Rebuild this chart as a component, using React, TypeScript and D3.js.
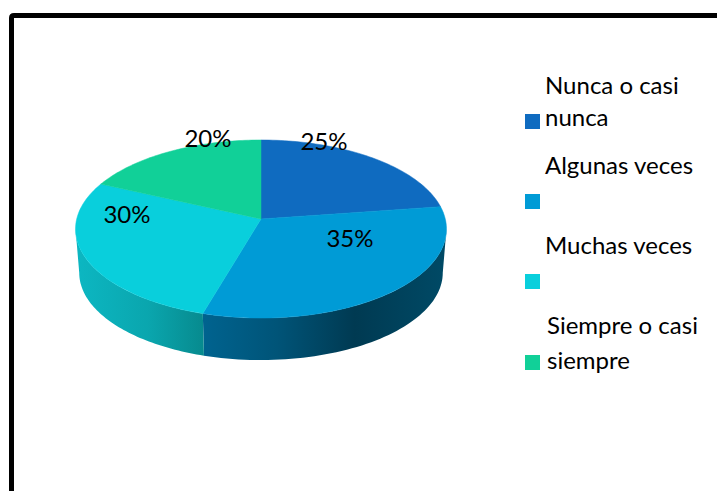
import React from "react";
import * as d3 from "d3";

const categories = ["Nunca o casi nunca", "Algunas veces", "Muchas veces", "Siempre o casi siempre"];
const values = [25, 35, 30, 20];
const legendLines = [["Nunca o casi", "nunca"], ["Algunas veces", ""], ["Muchas veces", ""], ["Siempre o casi", "siempre"]];
const colors = ["#0F6BC0", "#009BD6", "#09CFDC", "#11D098"];

const FONT = "Lato, sans-serif";

// where the labels sit, same order as values
const labelPos = [
  [324, 150],
  [350, 247],
  [127, 223],
  [208, 147],
];
const legendPos = [
  { box: 114, x: 545, x2: 545, line1: 94, line2: 126 },
  { box: 194, x: 545, x2: 545, line1: 174, line2: 0 },
  { box: 274, x: 545, x2: 545, line1: 254, line2: 0 },
  { box: 355, x: 547, x2: 547, line1: 334, line2: 369 },
];

// pie disc seen in perspective: front is nearer so it comes out bigger
const cx = 261;
const cy = 219;
const p = 0.1124;
const rx = 184.3;
const ry = 87.9;
// angle where the rim is widest, the wall stops there
const sideAngle = Math.acos(-p);

const project = (theta: number, scale = 1, dy = 0): [number, number] => {
  const X = Math.sin(theta);
  const Y = -Math.cos(theta);
  const w = 1 - p * Y;
  return [cx + (scale * rx * X) / w, cy + dy + (scale * ry * Y) / w];
};

const arcPoints = (a0: number, a1: number, scale = 1, dy = 0) =>
  d3.range(0, 61).map((i) => project(a0 + ((a1 - a0) * i) / 60, scale, dy));

const line = d3.line();
const pie = d3.pie<number>().sort(null);

export default function App() {
  const slices = pie(values);

  return (
    <svg width={717} height={491} style={{ position: "absolute", left: 0, top: 0, background: "#fff" }}>
      <defs>
        <linearGradient id="wall2" gradientUnits="userSpaceOnUse" x1={80} x2={204} y1={0} y2={0}>
          <stop offset="0" stopColor="#0CB6C1" />
          <stop offset="0.55" stopColor="#0AA6AE" />
          <stop offset="1" stopColor="#078A8E" />
        </linearGradient>
        <linearGradient id="wall1" gradientUnits="userSpaceOnUse" x1={204} x2={447} y1={0} y2={0}>
          <stop offset="0" stopColor="#00638F" />
          <stop offset="0.3" stopColor="#005478" />
          <stop offset="0.62" stopColor="#003A52" />
          <stop offset="1" stopColor="#004A66" />
        </linearGradient>
      </defs>

      <path d="M11.5 491V18Q11.5 15.5 14 15.5H717" fill="none" stroke="#000" strokeWidth={5} />

      {/* paredes */}
      {slices.map((s, i) => {
        const a0 = Math.max(s.startAngle, sideAngle);
        const a1 = Math.min(s.endAngle, 2 * Math.PI - sideAngle);
        if (a1 <= a0) return null;
        const top = arcPoints(a0, a1);
        const bottom = arcPoints(a0, a1, 0.98, 44).reverse();
        return <path key={i} d={line([...top, ...bottom]) + "Z"} fill={`url(#wall${i})`} />;
      })}

      {/* tapa */}
      {slices.map((s, i) => (
        <path
          key={i}
          d={line([[cx, cy], ...arcPoints(s.startAngle, s.endAngle)]) + "Z"}
          fill={colors[i]}
          stroke={colors[i]}
          strokeWidth={0.5}
        />
      ))}

      {values.map((v, i) => (
        <text key={i} x={labelPos[i][0]} y={labelPos[i][1]} textAnchor="middle" fontFamily={FONT} fontSize={24} fill="#000">
          {v}%
        </text>
      ))}

      {categories.map((c, i) => (
        <g key={c}>
          <rect x={525} y={legendPos[i].box} width={15} height={15} fill={colors[i]} />
          <text x={legendPos[i].x} y={legendPos[i].line1} fontFamily={FONT} fontSize={24} fill="#000">
            {legendLines[i][0]}
          </text>
          {legendLines[i][1] && (
            <text x={legendPos[i].x2} y={legendPos[i].line2} fontFamily={FONT} fontSize={24} fill="#000">
              {legendLines[i][1]}
            </text>
          )}
        </g>
      ))}
    </svg>
  );
}
